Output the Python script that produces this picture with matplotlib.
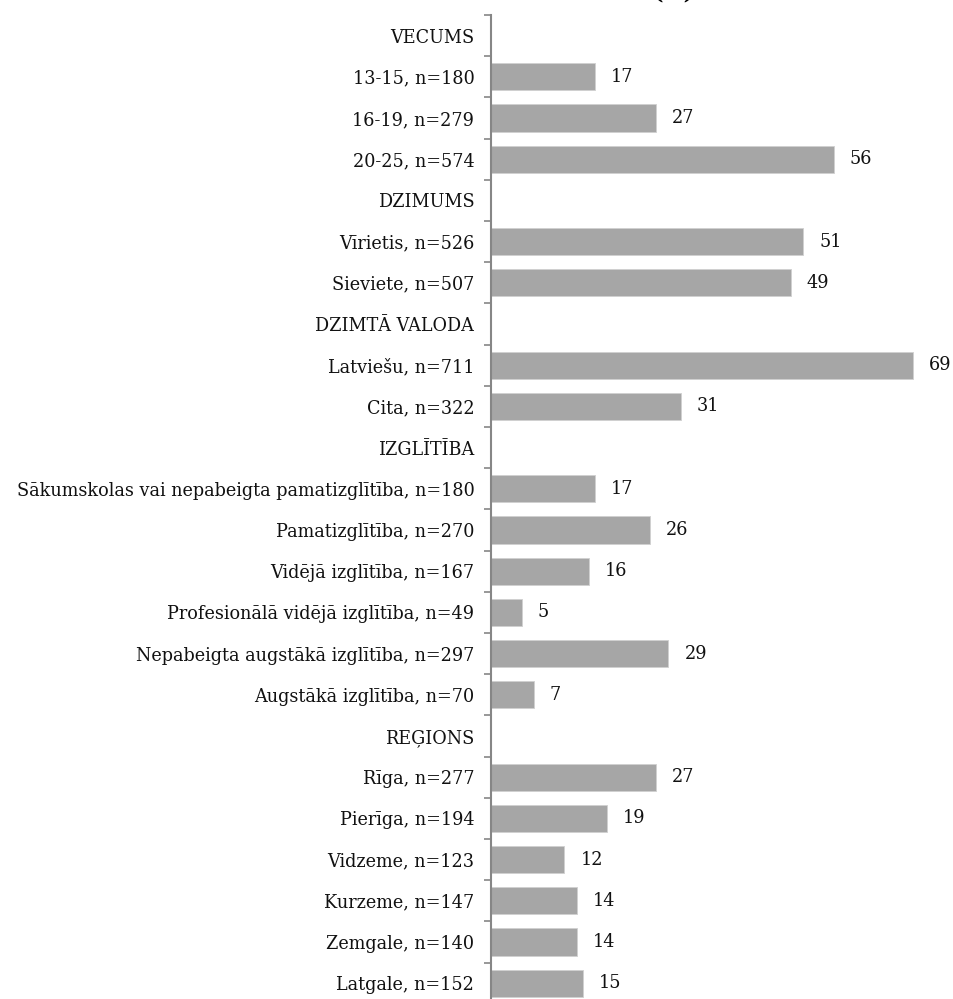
import matplotlib
matplotlib.use("Agg")
import matplotlib.pyplot as plt
import numpy as np

categories = [
    "VECUMS", "13-15, n=180", "16-19, n=279", "20-25, n=574",
    "DZIMUMS", "Vīrietis, n=526", "Sieviete, n=507",
    "DZIMTĀ VALODA", "Latviešu, n=711", "Cita, n=322",
    "IZGLĪTĪBA",
    "Sākumskolas vai nepabeigta pamatizglītība, n=180",
    "Pamatizglītība, n=270",
    "Vidējā izglītība, n=167",
    "Profesionālā vidējā izglītība, n=49",
    "Nepabeigta augstākā izglītība, n=297",
    "Augstākā izglītība, n=70",
    "REĢIONS",
    "Rīga, n=277", "Pierīga, n=194", "Vidzeme, n=123",
    "Kurzeme, n=147", "Zemgale, n=140", "Latgale, n=152",
]
values = [
    None, 17, 27, 56,
    None, 51, 49,
    None, 69, 31,
    None, 17, 26, 16, 5, 29, 7,
    None, 27, 19, 12, 14, 14, 15,
]
title = "(%)"

plt.rcParams['font.family'] = ['DejaVu Serif']

W, H = 954, 999
fig = plt.figure(figsize=(W / 100, H / 100), dpi=100)
left_px, right_px = 491, 954
top_px = 15
row_h = 41.2
n = len(categories)
bottom_px = top_px + n * row_h
ax = fig.add_axes([left_px / W, 1 - bottom_px / H,
                   (right_px - left_px) / W, (bottom_px - top_px) / H])

FS = 12.7
ys = np.arange(n)
for y, v in zip(ys, values):
    if v is None:
        continue
    ax.barh(y, v, height=0.66, color='#A6A6A6', edgecolor='#D0D0D0', linewidth=0.6)
    ax.text(v + 2.6, y, f"{v}", va='center', ha='left', fontsize=FS, color='#111111')

ax.set_ylim(n - 0.5, -0.5)
ax.set_xlim(0, (right_px - left_px) / 6.12)
ax.set_yticks(ys)
ax.set_yticklabels(categories, fontsize=FS, color='#111111')
ax.tick_params(axis='y', which='major', length=0, pad=12)
ax.set_yticks(np.arange(-0.5, n, 1.0), minor=True)
ax.tick_params(axis='y', which='minor', length=5, width=1.2, color='#868686', direction='out')
ax.set_xticks([])
for s in ['top', 'right', 'bottom']:
    ax.spines[s].set_visible(False)
ax.spines['left'].set_color('#868686')
ax.spines['left'].set_linewidth(1.5)

fig.text(674 / W, 1 - 3 / H, title, ha='center', va='bottom', fontsize=16, fontweight='bold')

fig.savefig("out.png", dpi=100)
